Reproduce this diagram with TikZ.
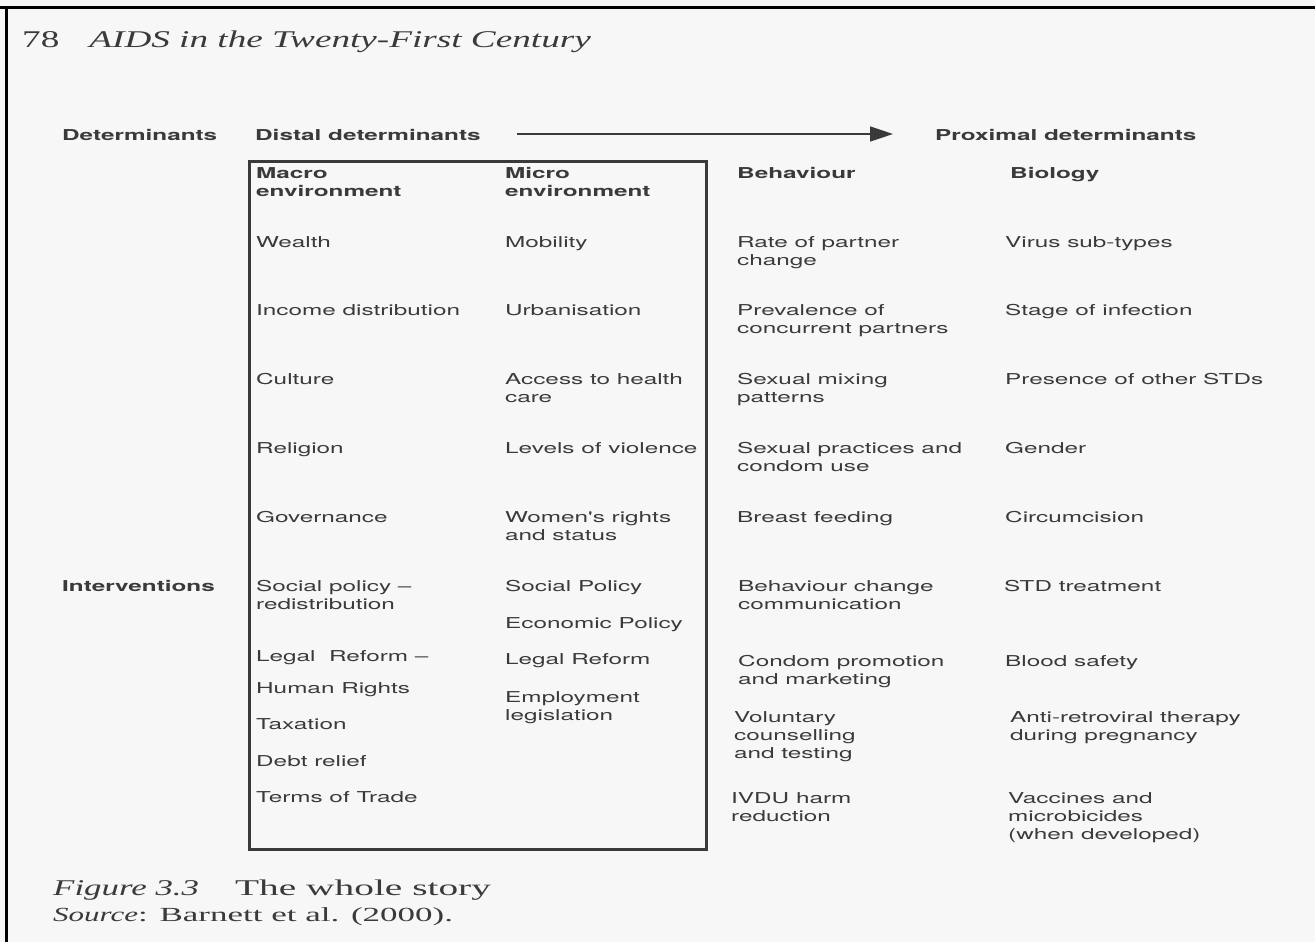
\documentclass[tikz,border=0pt]{standalone}
\usepackage{fontspec}
\usetikzlibrary{arrows.meta}
\newfontfamily\heros{TeX Gyre Heros}[FakeStretch=1.62]
\newfontfamily\pageserif{Liberation Serif}[FakeStretch=1.55]
\newfontfamily\pageserifwide{Liberation Serif}[FakeStretch=1.75]
\definecolor{ink}{HTML}{3A3A3A}
\definecolor{paper}{HTML}{F7F7F7}
\tikzset{
  lbl/.style={anchor=north west, inner sep=0pt, align=left, text=ink,
              font=\heros\fontsize{15}{18}\selectfont},
  hdr/.style={lbl, font=\heros\bfseries\fontsize{15}{18}\selectfont},
  pagetext/.style={anchor=base west, inner sep=0pt, text=ink},
  frame/.style={draw=ink, line width=2.6pt},
  flow/.style={draw=ink, line width=1.6pt, -{Triangle[length=23pt,width=15pt]}},
}
\begin{document}
\begin{tikzpicture}[x=1pt,y=-1pt]
\fill[paper] (0,0) rectangle (1315,942);
\useasboundingbox (0,0) rectangle (1315,942);
% page edges
\draw[line width=3pt, black] (0,8) -- (1315,8);
\draw[line width=3pt, black] (6,8) -- (6,942);
% running head
\node[pagetext, font=\pageserif\fontsize{24}{28}\selectfont] (head) at (22,48) {78\hspace{30pt}\itshape AIDS in the Twenty-First Century};
% header row
\node[hdr] (det) at (62,129) {Determinants};
\node[hdr] (distal) at (255,129) {Distal determinants};
\node[hdr] (prox) at (935,129) {Proximal determinants};
\coordinate (arS) at (517,134);
\coordinate (arE) at (893,134);
\draw[flow] (arS) -- (arE);
% box
\node[frame, minimum width=457pt, minimum height=688pt, anchor=north west, inner sep=0pt] (box) at (248,160) {};
% column heads
\node[hdr] (hmacro) at (256,167) {Macro\\environment};
\node[hdr] (hmicro) at (505,167) {Micro\\environment};
\node[hdr] (hbeh) at (737,167) {Behaviour};
\node[hdr] (hbio) at (1010,167) {Biology};
% determinants rows
\node[lbl] (m1) at (256,236) {Wealth};
\node[lbl] (m2) at (256,304) {Income distribution};
\node[lbl] (m3) at (256,373) {Culture};
\node[lbl] (m4) at (256,442) {Religion};
\node[lbl] (m5) at (256,511) {Governance};
\node[lbl] (u1) at (505,236) {Mobility};
\node[lbl] (u2) at (505,304) {Urbanisation};
\node[lbl] (u3) at (505,373) {Access to health\\care};
\node[lbl] (u4) at (505,442) {Levels of violence};
\node[lbl] (u5) at (505,511) {Women's rights\\and status};
\node[lbl] (b1) at (737,236) {Rate of partner\\change};
\node[lbl] (b2) at (737,304) {Prevalence of\\concurrent partners};
\node[lbl] (b3) at (737,373) {Sexual mixing\\patterns};
\node[lbl] (b4) at (737,442) {Sexual practices and\\condom use};
\node[lbl] (b5) at (737,511) {Breast feeding};
\node[lbl] (g1) at (1005,236) {Virus sub-types};
\node[lbl] (g2) at (1005,304) {Stage of infection};
\node[lbl] (g3) at (1005,373) {Presence of other STDs};
\node[lbl] (g4) at (1005,442) {Gender};
\node[lbl] (g5) at (1005,511) {Circumcision};
% interventions
\node[hdr] (int) at (62,580) {Interventions};
\node[lbl] (mi1) at (256,580) {Social policy –\\redistribution};
\node[lbl] (mi2) at (256,650) {Legal\ \ Reform –};
\node[lbl] (mi3) at (256,682) {Human Rights};
\node[lbl] (mi4) at (256,718) {Taxation};
\node[lbl] (mi5) at (256,755) {Debt relief};
\node[lbl] (mi6) at (256,791) {Terms of Trade};
\node[lbl] (ui1) at (505,580) {Social Policy};
\node[lbl] (ui2) at (505,617) {Economic Policy};
\node[lbl] (ui3) at (505,653) {Legal Reform};
\node[lbl] (ui4) at (505,691) {Employment\\legislation};
\node[lbl] (bi1) at (738,580) {Behaviour change\\communication};
\node[lbl] (bi2) at (738,655) {Condom promotion\\and marketing};
\node[lbl] (bi3) at (734,711) {Voluntary\\counselling\\and testing};
\node[lbl] (bi4) at (731,792) {IVDU harm\\reduction};
\node[lbl] (gi1) at (1004,580) {STD treatment};
\node[lbl] (gi2) at (1005,655) {Blood safety};
\node[lbl] (gi3) at (1010,711) {Anti-retroviral therapy\\during pregnancy};
\node[lbl] (gi4) at (1008,792) {Vaccines and\\microbicides\\(when developed)};
% caption
\node[pagetext, font=\pageserif\fontsize{22.5}{26}\selectfont] (cap) at (53,895) {\itshape Figure 3.3\hspace{36pt}\pageserifwide\upshape The whole story};
\node[pagetext, font=\pageserif\fontsize{20}{24}\selectfont] (src) at (53,921) {\itshape Source\pageserifwide\upshape: Barnett et al. (2000).};
\end{tikzpicture}
\end{document}
